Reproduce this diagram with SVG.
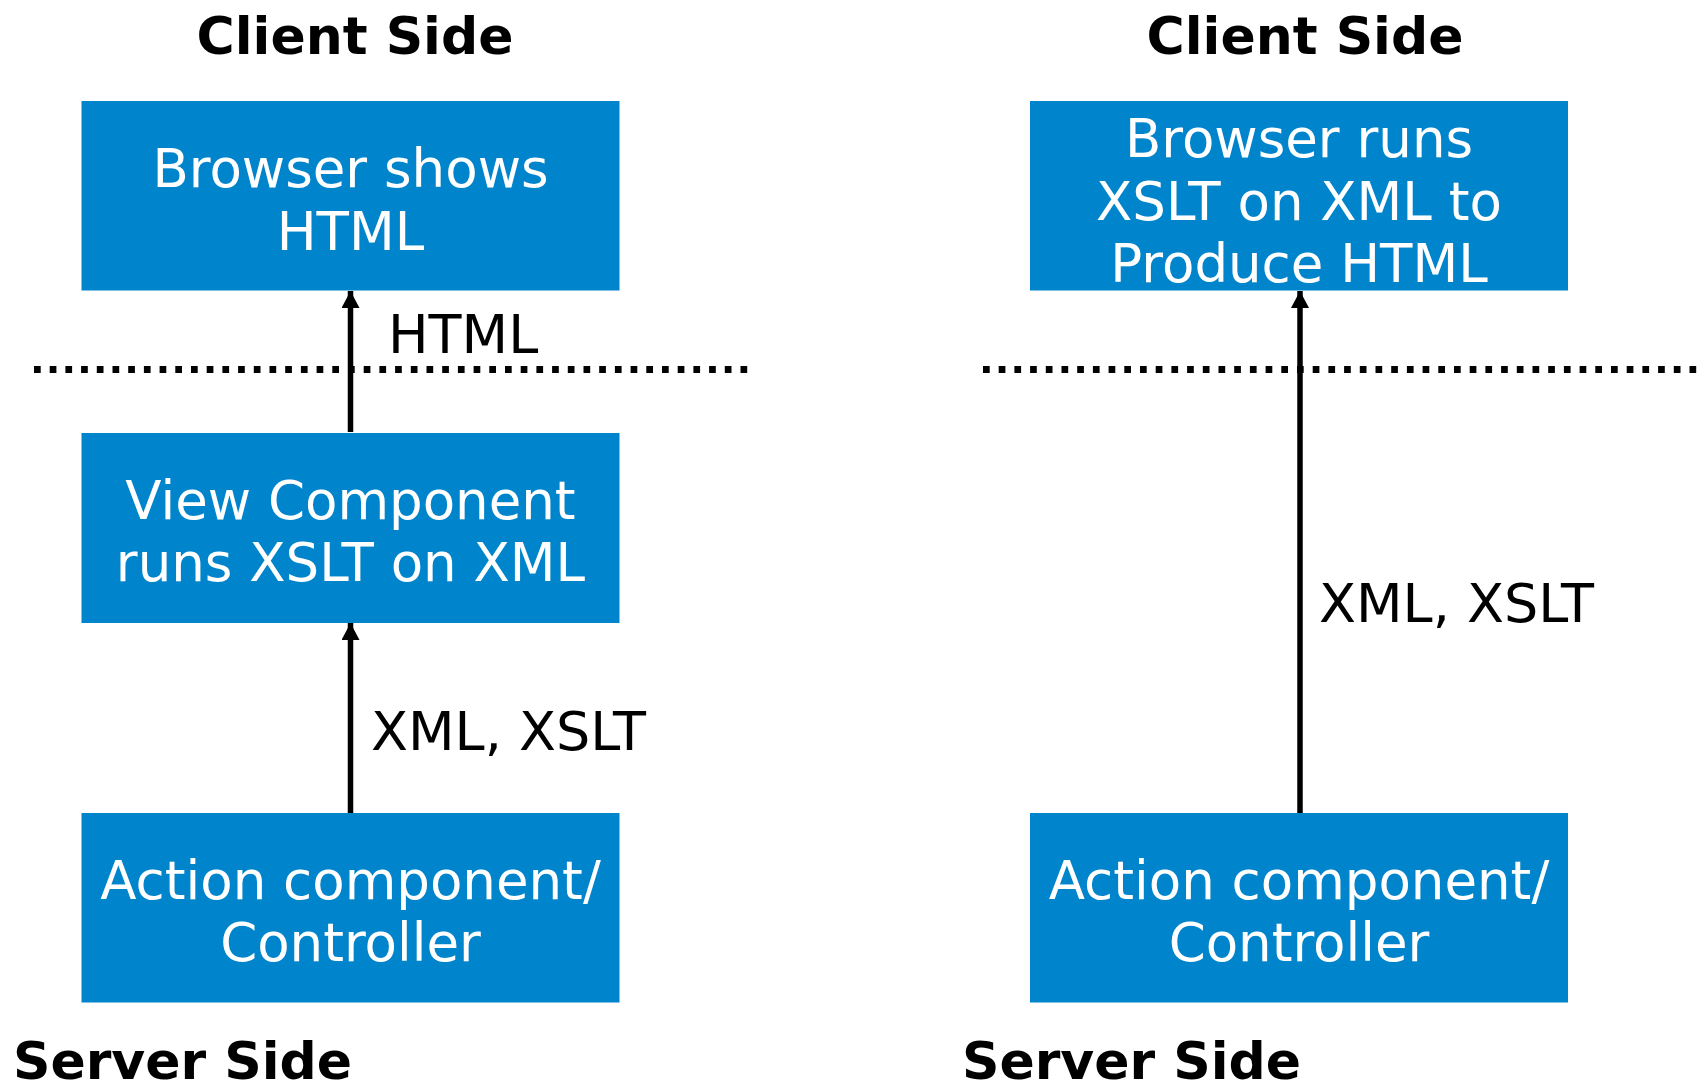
<svg xmlns="http://www.w3.org/2000/svg" width="1704" height="1086" viewBox="0 0 1704 1086">
<style>
.box{fill:#0084CB}
.nt{font-family:"DejaVu Sans",Verdana,sans-serif;font-size:53px;fill:#FFFFFF;text-anchor:middle}
.lbl{font-family:"DejaVu Sans",Verdana,sans-serif;font-size:54px;fill:#000000}
.ttl{font-family:"DejaVu Sans",Verdana,sans-serif;font-size:52px;font-weight:bold;fill:#000000}
.conn{stroke:#000;stroke-width:5.5;fill:none}
.sep{stroke:#000;stroke-width:7;stroke-dasharray:6.7 9;fill:none}
</style>
<defs>
<marker id="ah" markerUnits="userSpaceOnUse" markerWidth="18" markerHeight="18" viewBox="0 0 18 18" refX="17" refY="9" orient="auto">
<path d="M0,0 L17,9 L0,18 Z" fill="#000"/>
</marker>
</defs>
<rect width="1704" height="1086" fill="#FFFFFF"/>
<g id="titles">
<text class="ttl" x="355" y="54" text-anchor="middle">Client Side</text>
<text class="ttl" x="1305" y="54" text-anchor="middle">Client Side</text>
<text class="ttl" x="13" y="1079">Server Side</text>
<text class="ttl" x="962" y="1079">Server Side</text>
</g>
<g id="separators">
<line class="sep" x1="34" y1="369.5" x2="755" y2="369.5"/>
<line class="sep" x1="983" y1="369.5" x2="1704" y2="369.5"/>
</g>
<g id="connectors">
<line class="conn" x1="350.5" y1="432" x2="350.5" y2="291" marker-end="url(#ah)"/>
<line class="conn" x1="350.5" y1="813" x2="350.5" y2="623" marker-end="url(#ah)"/>
<line class="conn" x1="1300" y1="813" x2="1300" y2="291" marker-end="url(#ah)"/>
<text class="lbl" x="388" y="353">HTML</text>
<text class="lbl" x="371" y="750">XML, XSLT</text>
<text class="lbl" x="1319" y="622">XML, XSLT</text>
</g>
<g id="node-browser-shows">
<rect class="box" x="81.5" y="101" width="538" height="189.5"/>
<text class="nt" x="350.5" y="187">Browser shows</text>
<text class="nt" x="350.5" y="250">HTML</text>
</g>
<g id="node-view-component">
<rect class="box" x="81.5" y="433" width="538" height="190"/>
<text class="nt" x="350.5" y="519">View Component</text>
<text class="nt" x="350.5" y="581">runs XSLT on XML</text>
</g>
<g id="node-action-left">
<rect class="box" x="81.5" y="813" width="538" height="189.5"/>
<text class="nt" x="350.5" y="899">Action component/</text>
<text class="nt" x="350.5" y="961">Controller</text>
</g>
<g id="node-browser-runs">
<rect class="box" x="1030" y="101" width="538" height="189.5"/>
<text class="nt" x="1299" y="157">Browser runs</text>
<text class="nt" x="1299" y="220">XSLT on XML to</text>
<text class="nt" x="1299" y="282">Produce HTML</text>
</g>
<g id="node-action-right">
<rect class="box" x="1030" y="813" width="538" height="189.5"/>
<text class="nt" x="1299" y="899">Action component/</text>
<text class="nt" x="1299" y="961">Controller</text>
</g>
</svg>
